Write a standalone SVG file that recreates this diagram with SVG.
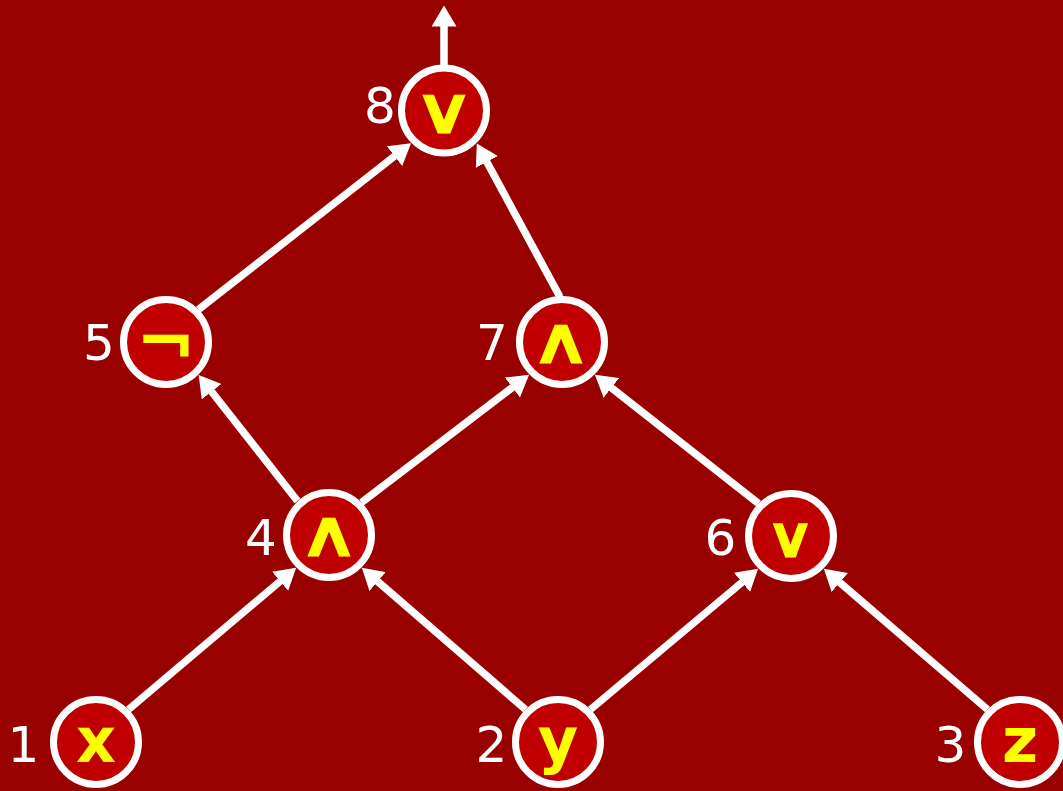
<svg xmlns="http://www.w3.org/2000/svg" width="1063" height="791" viewBox="0 0 1063 791">
<style>
.node circle{fill:#c00000;stroke:#fff;stroke-width:7}
.num{font-family:"DejaVu Sans",sans-serif;font-size:50px;fill:#fff;text-anchor:middle}
.sym{font-family:"DejaVu Sans",sans-serif;font-weight:bold;font-size:62px;fill:#ffff00;text-anchor:middle}
.op{font-family:"DejaVu Sans",sans-serif;font-size:62px;fill:#ffff00;stroke:#ffff00;stroke-width:2.8;stroke-linejoin:miter;text-anchor:middle}
.edges line{stroke:#fff;stroke-width:7.5;marker-end:url(#arr)}
</style>
<defs>
<marker id="arr" markerUnits="userSpaceOnUse" markerWidth="21" markerHeight="25" refX="0.5" refY="12.5" orient="auto" viewBox="0 0 21 25">
<path d="M0,0 L21,12.5 L0,25 z" fill="#fff"/>
</marker>
</defs>
<rect width="1063" height="791" fill="#990000"/>
<g id="connectors" class="edges">
<line x1="128.5" y1="709.5" x2="280.5" y2="581"/>
<line x1="525.5" y1="709.5" x2="377.3" y2="581.2"/>
<line x1="590.5" y1="709.5" x2="742.4" y2="582"/>
<line x1="987.5" y1="709.5" x2="839.4" y2="582.2"/>
<line x1="297.5" y1="501" x2="211.3" y2="391.2"/>
<line x1="361.5" y1="502.5" x2="512.8" y2="387.2"/>
<line x1="758.5" y1="503.5" x2="611" y2="387.5"/>
<line x1="198.5" y1="309.5" x2="394.9" y2="155.9"/>
<line x1="560" y1="297" x2="486.6" y2="161.5"/>
<line x1="444" y1="66" x2="444" y2="26"/>
</g>
<g id="n8" class="node"><circle cx="444" cy="110.5" r="42.5"/><text class="num" x="380" y="123">8</text><text class="op" transform="translate(444,131.5) scale(1.3,1)">∨</text></g>
<g id="n5" class="node"><circle cx="166" cy="342" r="42.5"/><text class="num" x="99" y="360">5</text><text class="sym" x="166" y="366" style="font-size:72px">¬</text></g>
<g id="n7" class="node"><circle cx="562" cy="342" r="42.5"/><text class="num" x="492" y="360">7</text><text class="op" transform="translate(561,361.5) scale(1.3,1)">∧</text></g>
<g id="n4" class="node"><circle cx="329" cy="535" r="42.5"/><text class="num" x="261" y="555">4</text><text class="op" transform="translate(329,555) scale(1.3,1)">∧</text></g>
<g id="n6" class="node"><circle cx="791" cy="536" r="42.5"/><text class="num" x="720.5" y="555">6</text><text class="op" transform="translate(790.5,556) scale(1.2,1)" style="font-size:54px">∨</text></g>
<g id="n1" class="node"><circle cx="96" cy="742" r="42.5"/><text class="num" x="23.5" y="762">1</text><text class="sym" x="96" y="762">x</text></g>
<g id="n2" class="node"><circle cx="558" cy="742" r="42.5"/><text class="num" x="491.5" y="762">2</text><text class="sym" x="558" y="762">y</text></g>
<g id="n3" class="node"><circle cx="1020" cy="742" r="42.5"/><text class="num" x="950.5" y="762">3</text><text class="sym" x="1020" y="762">z</text></g>
</svg>
